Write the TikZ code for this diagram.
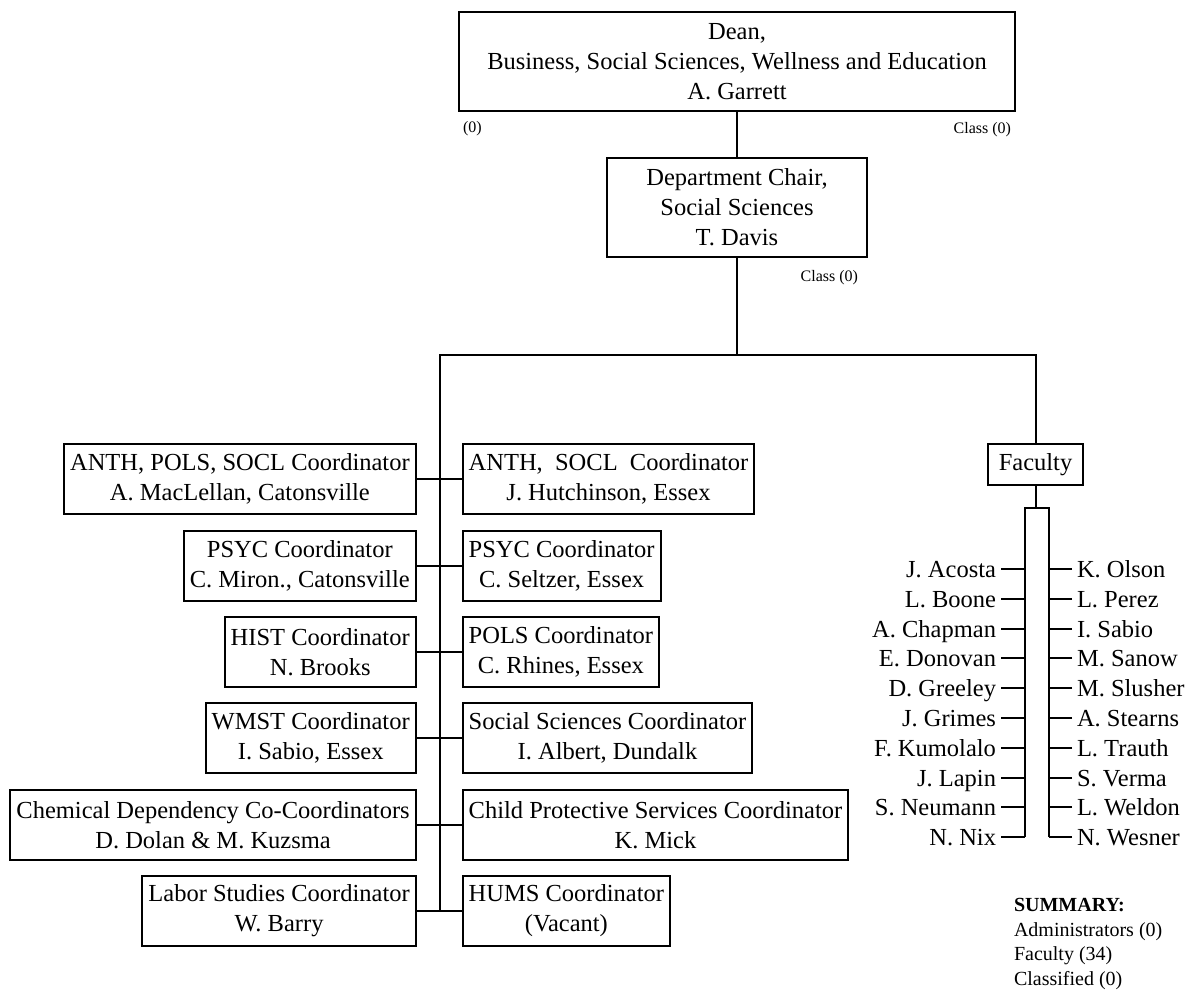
\documentclass[tikz,border=0pt]{standalone}
\usepackage{fontspec}
\setmainfont{Liberation Serif}
\usetikzlibrary{positioning}

\begin{document}
\begin{tikzpicture}[x=0.5pt, y=-0.5pt, line width=1pt,
  every node/.style={font=\fontsize{12.25}{15}\selectfont},
  box/.style={draw, align=center, inner xsep=3pt, inner ysep=0pt, minimum height=35pt},
  bigbox/.style={box, minimum height=49.5pt},
  fname/.style={inner xsep=2pt, inner ysep=0pt, text height=10.4pt, text depth=2.3pt},
  tally/.style={font=\fontsize{8}{9.5}\selectfont, inner sep=0pt}]

  \useasboundingbox (0,0) rectangle (1188,990);

  % Dean and chair
  \node[bigbox, minimum width=278pt] (dean) at (737,61.5)
    {Dean,\\Business, Social Sciences, Wellness and Education\\A. Garrett};
  \node[bigbox, minimum width=130pt] (chair) at (737,207.5)
    {Department Chair,\\Social Sciences\\T. Davis};
  \node[tally, below right=4pt and 2pt of dean.south west] (deanadm) {(0)};
  \node[tally, below left=4.5pt and 2pt of dean.south east] (deancls) {Class (0)};
  \node[tally, below left=5.5pt and 4.5pt of chair.south east] (chaircls) {Class (0)};

  \draw (dean.south) -- (chair.north);

  % Coordinators, left column
  \node[box, anchor=east] (l1) at (416.7,479) {ANTH, POLS, SOCL Coordinator\\A. MacLellan, Catonsville};
  \node[box, anchor=east] (l2) at (416.7,566) {PSYC Coordinator\\C. Miron., Catonsville};
  \node[box, anchor=east] (l3) at (416.7,652) {HIST Coordinator\\N. Brooks};
  \node[box, anchor=east] (l4) at (416.7,738) {WMST Coordinator\\I. Sabio, Essex};
  \node[box, anchor=east] (l5) at (416.7,825) {Chemical Dependency Co-Coordinators\\D. Dolan \& M. Kuzsma};
  \node[box, anchor=east] (l6) at (416.7,911) {Labor Studies Coordinator\\W. Barry};

  % Coordinators, right column
  \node[box, anchor=west] (r1) at (461.7,479) {ANTH,\ \ SOCL\ \ Coordinator\\J. Hutchinson, Essex};
  \node[box, anchor=west] (r2) at (461.7,566) {PSYC Coordinator\\C. Seltzer, Essex};
  \node[box, anchor=west] (r3) at (461.7,652) {POLS Coordinator\\C. Rhines, Essex};
  \node[box, anchor=west] (r4) at (461.7,738) {Social Sciences Coordinator\\I. Albert, Dundalk};
  \node[box, anchor=west] (r5) at (461.7,825) {Child Protective Services Coordinator\\K. Mick};
  \node[box, anchor=west] (r6) at (461.7,911) {HUMS Coordinator\\(Vacant)};

  % Faculty
  \node[box, minimum width=47.5pt, minimum height=20.5pt] (fac) at (1035.5,464.5) {Faculty};

  % Bus and spine
  \coordinate (busL) at (439.5,355);
  \coordinate (busR) at (fac.north |- busL);
  \coordinate (busM) at (chair.south |- busL);
  \draw (chair.south) -- (busM);
  \draw (busL |- l6.east) -- (busL) -- (busR) -- (fac.north);
  \draw (l1.east) -- (r1.west);
  \draw (l2.east) -- (r2.west);
  \draw (l3.east) -- (r3.west);
  \draw (l4.east) -- (r4.west);
  \draw (l5.east) -- (r5.west);
  \draw (l6.east) -- (r6.west);

  % Faculty names
  \node[fname, anchor=east] (fl0) at (1001,569) {J. Acosta};
  \node[fname, anchor=east] (fl1) at (1001,599) {L. Boone};
  \node[fname, anchor=east] (fl2) at (1001,629) {A. Chapman};
  \node[fname, anchor=east] (fl3) at (1001,658) {E. Donovan};
  \node[fname, anchor=east] (fl4) at (1001,688) {D. Greeley};
  \node[fname, anchor=east] (fl5) at (1001,718) {J. Grimes};
  \node[fname, anchor=east] (fl6) at (1001,748) {F. Kumolalo};
  \node[fname, anchor=east] (fl7) at (1001,778) {J. Lapin};
  \node[fname, anchor=east] (fl8) at (1001,807) {S. Neumann};
  \node[fname, anchor=east] (fl9) at (1001,837) {N. Nix};

  \node[fname, anchor=west] (fr0) at (1072,569) {K. Olson};
  \node[fname, anchor=west] (fr1) at (1072,599) {L. Perez};
  \node[fname, anchor=west] (fr2) at (1072,629) {I. Sabio};
  \node[fname, anchor=west] (fr3) at (1072,658) {M. Sanow};
  \node[fname, anchor=west] (fr4) at (1072,688) {M. Slusher};
  \node[fname, anchor=west] (fr5) at (1072,718) {A. Stearns};
  \node[fname, anchor=west] (fr6) at (1072,748) {L. Trauth};
  \node[fname, anchor=west] (fr7) at (1072,778) {S. Verma};
  \node[fname, anchor=west] (fr8) at (1072,807) {L. Weldon};
  \node[fname, anchor=west] (fr9) at (1072,837) {N. Wesner};

  \coordinate (tl) at (1025,508);
  \coordinate (tr) at (1049,508);
  \draw (fac.south) -- (fac.south |- tl);
  \draw (tl |- fl9.east) -- (tl) -- (tr) -- (tr |- fr9.east);
  \draw (fl0.east) -- (tl |- fl0.east);  \draw (fr0.west) -- (tr |- fr0.west);
  \draw (fl1.east) -- (tl |- fl1.east);  \draw (fr1.west) -- (tr |- fr1.west);
  \draw (fl2.east) -- (tl |- fl2.east);  \draw (fr2.west) -- (tr |- fr2.west);
  \draw (fl3.east) -- (tl |- fl3.east);  \draw (fr3.west) -- (tr |- fr3.west);
  \draw (fl4.east) -- (tl |- fl4.east);  \draw (fr4.west) -- (tr |- fr4.west);
  \draw (fl5.east) -- (tl |- fl5.east);  \draw (fr5.west) -- (tr |- fr5.west);
  \draw (fl6.east) -- (tl |- fl6.east);  \draw (fr6.west) -- (tr |- fr6.west);
  \draw (fl7.east) -- (tl |- fl7.east);  \draw (fr7.west) -- (tr |- fr7.west);
  \draw (fl8.east) -- (tl |- fl8.east);  \draw (fr8.west) -- (tr |- fr8.west);
  \draw (fl9.east) -- (tl |- fl9.east);  \draw (fr9.west) -- (tr |- fr9.west);

  % Summary
  \node[anchor=north west, inner sep=0pt, align=left, font=\fontsize{10}{12.25}\selectfont]
    (summary) at (1013,897.5)
    {\textbf{SUMMARY:}\\Administrators (0)\\Faculty (34)\\Classified (0)};
\end{tikzpicture}
\end{document}
